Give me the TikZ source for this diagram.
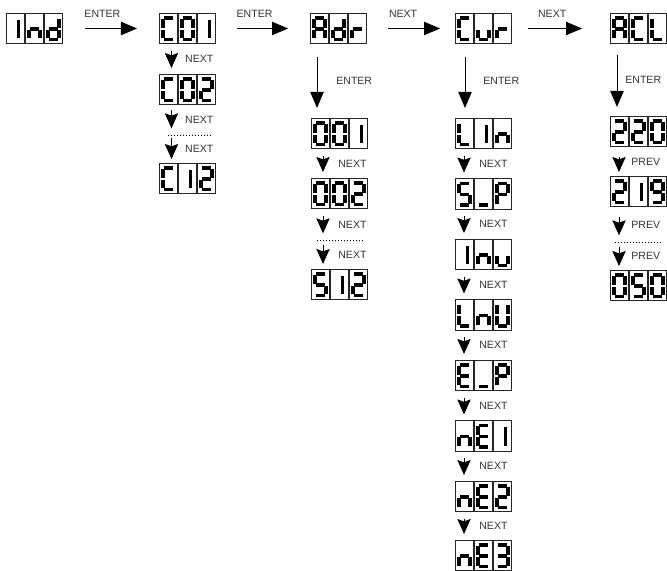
\documentclass[tikz,border=0pt]{standalone}
\usepackage{fontspec}
\setmainfont{Liberation Sans}
\usetikzlibrary{arrows.meta,calc}

% seven segments of one cell (19 x 31 units)
\pgfkeys{/lcd/.cd,
  a/.initial={(5,5) -- (14,5)},
  b/.initial={(15,6) -- (15,15)},
  c/.initial={(15,16.6) -- (15,25.5)},
  d/.initial={(5,26.5) -- (14,26.5)},
  e/.initial={(4,16.6) -- (4,25.5)},
  f/.initial={(4,6) -- (4,15)},
  g/.initial={(5,15.8) -- (14,15.8)},
  i/.initial={(12.5,7) -- (12.5,25.5)}}

\newcommand{\segA}{a,b,c,e,f,g}
\newcommand{\segC}{a,d,e,f}
\newcommand{\segd}{b,c,d,e,g}
\newcommand{\segr}{e,g}
\newcommand{\segu}{c,d,e}
\newcommand{\segn}{c,e,g}
\newcommand{\segL}{d,e,f}
\newcommand{\segE}{a,d,e,f,g}
\newcommand{\segP}{a,b,e,f,g}
\newcommand{\segU}{b,c,d,e,f}
\newcommand{\segS}{a,c,d,f,g}
\newcommand{\segzero}{a,b,c,d,e,f}
\newcommand{\segone}{i}
\newcommand{\segtwo}{a,b,d,e,g}
\newcommand{\segthree}{a,b,c,d,g}
\newcommand{\segnine}{a,b,c,d,f,g}
\newcommand{\segbar}{d}

\newcommand{\drawglyph}[2]{%
  \begin{scope}[shift={(#1,0)}]
    \foreach \s in #2 {\pgfkeysgetvalue{/lcd/\s}\segpath \draw[segment] \segpath;}
  \end{scope}}

% name, top left corner, three glyphs
\newcommand{\lcdpanel}[5]{%
  \node[lcdbox] (#1) at (#2) {};
  \begin{scope}[shift={(#1.north west)}]
    \foreach \k in {0,1,2}
      \draw[cell] (19*\k+0.4,0.4) rectangle (19*\k+18.2,30.6);
    \drawglyph{0}{#3}\drawglyph{19}{#4}\drawglyph{38}{#5}
  \end{scope}}

\begin{document}
\begin{tikzpicture}[x=0.03cm, y=-0.03cm,
  lcdbox/.style={minimum width=1.71cm, minimum height=0.93cm, inner sep=0pt, outer sep=0pt, anchor=north west},
  cell/.style={draw=black!85, line width=0.7pt},
  segment/.style={line width=3pt, line cap=butt},
  hop/.style={-{Triangle[length=0.48cm,width=0.4cm]}, line width=0.8pt},
  stepto/.style={-{Stealth[length=0.45cm,width=0.4cm,inset=0.07cm]}, line width=0.8pt, shorten <=0.2cm, shorten >=0.18cm},
  gapline/.style={line width=0.8pt, dash pattern=on 0.8pt off 1.75pt},
  lbl/.style={font=\fontsize{9}{11}\selectfont, text=black!80},
  toplbl/.style={lbl, pos=0.41, yshift=0.43cm},
  sidelbl/.style={lbl, midway, anchor=west, xshift=0.45cm},
  steplbl/.style={lbl, midway, anchor=west, xshift=0.28cm},
]
\useasboundingbox (0,0) rectangle (667,571);

\lcdpanel{ind}{6,13}{\segone}{\segn}{\segd}

\lcdpanel{c01}{159,13}{\segC}{\segzero}{\segone}
\lcdpanel{c02}{159,74}{\segC}{\segzero}{\segtwo}
\coordinate (cgap) at (189,135);
\lcdpanel{c12}{159,163}{\segC}{\segone}{\segtwo}

\lcdpanel{adr}{310,13}{\segA}{\segd}{\segr}
\lcdpanel{a001}{311,118}{\segzero}{\segzero}{\segone}
\lcdpanel{a002}{311,178}{\segzero}{\segzero}{\segtwo}
\coordinate (agap) at (340,240);
\lcdpanel{a512}{311,269}{\segS}{\segone}{\segtwo}

\lcdpanel{cur}{455,13}{\segC}{\segu}{\segr}
\lcdpanel{lin}{455,118}{\segL}{\segone}{\segn}
\lcdpanel{sp}{455,178.5}{\segS}{\segbar}{\segP}
\lcdpanel{inu}{455,239}{\segone}{\segn}{\segu}
\lcdpanel{lnu}{455,299.5}{\segL}{\segn}{\segU}
\lcdpanel{ep}{455,360}{\segE}{\segbar}{\segP}
\lcdpanel{ne1}{455,420.5}{\segn}{\segE}{\segone}
\lcdpanel{ne2}{455,481}{\segn}{\segE}{\segtwo}
\lcdpanel{ne3}{455,540}{\segn}{\segE}{\segthree}

\lcdpanel{acl}{610,13}{\segA}{\segC}{\segL}
\lcdpanel{v220}{610,116}{\segtwo}{\segtwo}{\segzero}
\lcdpanel{v219}{610,176}{\segtwo}{\segone}{\segnine}
\coordinate (vgap) at (638,242);
\lcdpanel{v050}{610,270}{\segzero}{\segS}{\segzero}

% top row
\draw[hop, shorten <=0.66cm, shorten >=0.66cm] (ind) -- (c01) node[toplbl] {ENTER};
\draw[hop, shorten <=0.63cm, shorten >=0.66cm] (c01) -- (adr) node[toplbl] {ENTER};
\draw[hop, shorten <=0.63cm, shorten >=0.45cm] (adr) -- (cur) node[toplbl] {NEXT};
\draw[hop, shorten <=0.48cm, shorten >=0.84cm] (cur) -- (acl) node[toplbl] {NEXT};

% down into the menus
\draw[hop, shorten <=0.39cm, shorten >=0.3cm] ($(adr.south west)+(7,0)$) -- ($(a001.north west)+(6,0)$) node[sidelbl] {ENTER};
\draw[hop, shorten <=0.39cm, shorten >=0.3cm] ($(cur.south west)+(10,0)$) -- ($(lin.north west)+(10,0)$) node[sidelbl, xshift=-0.03cm] {ENTER};
\draw[hop, shorten <=0.33cm, shorten >=0.27cm] ($(acl.south west)+(7,0)$) -- ($(v220.north west)+(7,0)$) node[sidelbl, xshift=-0.33cm] {ENTER};

% channel list
\draw[stepto] ($(c01.south west)+(12.5,0)$) -- ($(c02.north west)+(12.5,0)$) node[steplbl] {NEXT};
\draw[stepto, shorten <=0.15cm, shorten >=0.2cm] ($(c02.south west)+(12.5,0)$) -- (cgap -| {$(c02.south west)+(12.5,0)$}) node[steplbl] {NEXT};
\draw[gapline] ($(cgap)+(-21,0)$) -- ($(cgap)+(21,0)$);
\draw[stepto, shorten <=0.1cm, shorten >=0.12cm] (cgap -| {$(c12.north west)+(12.5,0)$}) -- ($(c12.north west)+(12.5,0)$) node[steplbl] {NEXT};

% address list
\draw[stepto] ($(a001.south west)+(12,0)$) -- ($(a002.north west)+(12,0)$) node[steplbl, xshift=0.05cm] {NEXT};
\draw[stepto, shorten <=0.2cm, shorten >=0.2cm] ($(a002.south west)+(12,0)$) -- (agap -| {$(a002.south west)+(12,0)$}) node[steplbl, xshift=0.05cm] {NEXT};
\draw[gapline] ($(agap)+(-23,0)$) -- ($(agap)+(23,0)$);
\draw[stepto, shorten <=0.15cm, shorten >=0.15cm] (agap -| {$(a512.north west)+(12,0)$}) -- ($(a512.north west)+(12,0)$) node[steplbl, xshift=0.05cm] {NEXT};

% current settings
\foreach \a/\b in {lin/sp, sp/inu, inu/lnu, lnu/ep, ep/ne1, ne1/ne2, ne2/ne3}
  \draw[stepto] ($(\a.south west)+(9,0)$) -- ($(\b.north west)+(9,0)$) node[steplbl, xshift=0.05cm] {NEXT};

% scale values
\draw[stepto, shorten <=0.3cm, shorten >=0.12cm] ($(v220.south west)+(9,0)$) -- ($(v219.north west)+(9,0)$) node[steplbl, xshift=-0.04cm] {PREV};
\draw[stepto, shorten <=0.3cm, shorten >=0.2cm] ($(v219.south west)+(9,0)$) -- (vgap -| {$(v219.south west)+(9,0)$}) node[steplbl, xshift=-0.04cm] {PREV};
\draw[gapline] ($(vgap)+(-23,0)$) -- ($(vgap)+(23,0)$);
\draw[stepto, shorten <=0.15cm, shorten >=0.12cm] (vgap -| {$(v050.north west)+(9,0)$}) -- ($(v050.north west)+(9,0)$) node[steplbl, xshift=-0.04cm] {PREV};

\end{tikzpicture}
\end{document}
